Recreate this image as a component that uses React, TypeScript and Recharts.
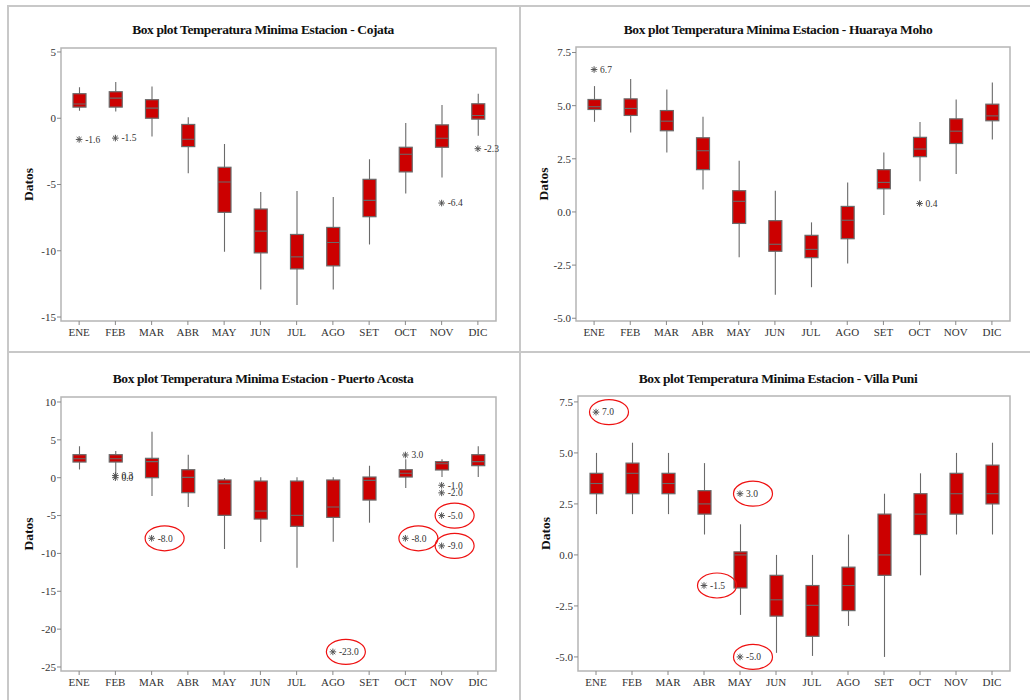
import { Bar, ComposedChart, ReferenceArea, Scatter, XAxis, YAxis } from "recharts";

const MESES = ["ENE", "FEB", "MAR", "ABR", "MAY", "JUN", "JUL", "AGO", "SET", "OCT", "NOV", "DIC"];

// cada fila: [bigote inferior, Q1, mediana, Q3, bigote superior]
const COJATA = [
  [0.56, 0.84, 1.07, 1.85, 2.33],
  [0.51, 0.84, 1.52, 2.0, 2.73],
  [-1.38, 0.0, 0.76, 1.4, 2.4],
  [-4.16, -2.14, -1.58, -0.47, 0.08],
  [-10.08, -7.1, -4.81, -3.7, -1.94],
  [-12.93, -10.16, -8.52, -6.85, -5.57],
  [-14.09, -11.37, -10.46, -8.77, -5.49],
  [-12.93, -11.14, -9.38, -8.24, -5.95],
  [-9.53, -7.43, -6.2, -4.61, -3.1],
  [-5.67, -4.05, -2.72, -2.19, -0.35],
  [-4.48, -2.19, -1.51, -0.5, 0.99],
  [-1.33, -0.07, 0.21, 1.09, 1.85],
];

const HUARAYA = [
  [4.24, 4.82, 4.95, 5.29, 5.92],
  [3.74, 4.54, 4.87, 5.32, 6.25],
  [2.8, 3.82, 4.27, 4.77, 5.76],
  [1.06, 1.99, 2.88, 3.49, 4.48],
  [-2.13, -0.54, 0.5, 1.0, 2.41],
  [-3.89, -1.85, -1.52, -0.41, 1.0],
  [-3.54, -2.15, -1.76, -1.1, -0.49],
  [-2.42, -1.26, -0.39, 0.26, 1.39],
  [-0.14, 1.09, 1.39, 1.99, 2.8],
  [1.45, 2.6, 2.96, 3.51, 4.23],
  [1.78, 3.22, 3.8, 4.38, 5.29],
  [3.41, 4.29, 4.52, 5.07, 6.09],
];

const PUERTO = [
  [1.1, 2.07, 2.5, 3.04, 4.14],
  [0.53, 2.07, 2.5, 3.04, 3.53],
  [-2.42, 0.0, 2.12, 2.56, 6.08],
  [-3.87, -1.98, 0.05, 1.06, 3.04],
  [-9.42, -4.97, -0.79, -0.3, -0.04],
  [-8.49, -5.46, -4.4, -0.44, 0.05],
  [-11.88, -6.42, -4.97, -0.44, 0.05],
  [-8.45, -5.24, -3.87, -0.3, 0.05],
  [-5.94, -2.95, -0.35, 0.09, 1.59],
  [-1.36, 0.09, 0.58, 1.06, 2.43],
  [0.09, 1.02, 1.85, 2.12, 2.43],
  [0.09, 1.59, 2.12, 3.04, 4.14],
];

const VILLA = [
  [2.0, 3.0, 3.5, 4.0, 5.0],
  [2.0, 3.0, 4.0, 4.5, 5.5],
  [2.0, 3.0, 3.5, 4.0, 5.0],
  [1.0, 2.0, 2.5, 3.15, 4.5],
  [-2.94, -1.62, 0.0, 0.15, 1.5],
  [-4.8, -3.0, -2.2, -1.0, 0.0],
  [-4.95, -3.99, -2.47, -1.5, 0.0],
  [-3.48, -2.73, -1.5, -0.6, 1.0],
  [-5.0, -1.0, 0.0, 2.0, 3.0],
  [-1.0, 1.0, 2.0, 3.0, 4.0],
  [1.0, 2.0, 3.0, 4.0, 5.0],
  [1.0, 2.5, 3.0, 4.4, 5.5],
];

// valores atípicos; "marcado" = encerrado con un óvalo rojo
const COJATA_ATIPICOS = [
  { mes: "ENE", valor: -1.6 },
  { mes: "FEB", valor: -1.5 },
  { mes: "NOV", valor: -6.4 },
  { mes: "DIC", valor: -2.3 },
];

const HUARAYA_ATIPICOS = [
  { mes: "ENE", valor: 6.7 },
  { mes: "OCT", valor: 0.4 },
];

const PUERTO_ATIPICOS = [
  { mes: "FEB", valor: 0.3 },
  { mes: "FEB", valor: 0.0 },
  { mes: "MAR", valor: -8.0, marcado: true },
  { mes: "AGO", valor: -23.0, marcado: true },
  { mes: "OCT", valor: 3.0 },
  { mes: "OCT", valor: -8.0, marcado: true },
  { mes: "NOV", valor: -1.0 },
  { mes: "NOV", valor: -2.0 },
  { mes: "NOV", valor: -5.0, marcado: true },
  { mes: "NOV", valor: -9.0, marcado: true },
];

const VILLA_ATIPICOS = [
  { mes: "ENE", valor: 7.0, marcado: true },
  { mes: "ABR", valor: -1.5, marcado: true },
  { mes: "MAY", valor: 3.0, marcado: true },
  { mes: "MAY", valor: -5.0, marcado: true },
];

const TICKS_COJATA = [-15, -10, -5, 0, 5];
const TICKS_HUARAYA = [-5, -2.5, 0, 2.5, 5, 7.5];
const TICKS_PUERTO = [-25, -20, -15, -10, -5, 0, 5, 10];
const TICKS_VILLA = [-5, -2.5, 0, 2.5, 5, 7.5];

const FUENTE = '"Liberation Serif", "Times New Roman", serif';
const ROJO = "#cc0000";
const GRIS = "#6a6a6a";

const PANELES = [
  {
    titulo: "Box plot Temperatura Minima Estacion - Cojata",
    cajas: COJATA,
    atipicos: COJATA_ATIPICOS,
    ticks: TICKS_COJATA,
    dominio: [-15.3, 5.3],
    decimales: 0,
    left: 0,
    top: 0,
    margin: { top: 48, right: 19, bottom: 9, left: 21 },
  },
  {
    titulo: "Box plot Temperatura Minima Estacion - Huaraya Moho",
    cajas: HUARAYA,
    atipicos: HUARAYA_ATIPICOS,
    ticks: TICKS_HUARAYA,
    dominio: [-5.13, 7.76],
    decimales: 1,
    left: 515,
    top: 0,
    margin: { top: 47, right: 20, bottom: 9, left: 21 },
  },
  {
    titulo: "Box plot Temperatura Minima Estacion - Puerto Acosta",
    cajas: PUERTO,
    atipicos: PUERTO_ATIPICOS,
    ticks: TICKS_PUERTO,
    dominio: [-25.53, 10.66],
    decimales: 0,
    left: 0,
    top: 350,
    margin: { top: 47, right: 19, bottom: 9, left: 21 },
  },
  {
    titulo: "Box plot Temperatura Minima Estacion - Villa Puni",
    cajas: VILLA,
    atipicos: VILLA_ATIPICOS,
    ticks: TICKS_VILLA,
    dominio: [-5.69, 7.79],
    decimales: 1,
    left: 515,
    top: 350,
    margin: { top: 46, right: 20, bottom: 9, left: 23 },
  },
];

function Caja(props: any) {
  const { x, y, width, height, payload } = props;
  if (!payload) return null;
  const { lo, q1, med, q3, hi } = payload;
  const top = Math.min(y, y + height);
  const h = Math.abs(height);
  const k = h / (hi - lo);
  const cx = x + width / 2;
  const yQ3 = top + (hi - q3) * k;
  const yQ1 = top + (hi - q1) * k;
  const yMed = top + (hi - med) * k;
  return (
    <g>
      <line x1={cx} x2={cx} y1={top} y2={top + h} stroke={GRIS} strokeWidth={1.1} />
      <rect x={x} y={yQ3} width={width} height={yQ1 - yQ3} fill={ROJO} stroke={GRIS} strokeWidth={1.2} />
      <line x1={x} x2={x + width} y1={yMed} y2={yMed} stroke={GRIS} strokeWidth={1.1} />
    </g>
  );
}

function Atipico(props: any) {
  const { cx, cy, payload } = props;
  if (cx == null || cy == null || !payload) return null;
  const r = 3.3;
  const d = r * 0.72;
  return (
    <g>
      <line x1={cx - r} x2={cx + r} y1={cy} y2={cy} stroke="#555" strokeWidth={1} />
      <line x1={cx} x2={cx} y1={cy - r} y2={cy + r} stroke="#555" strokeWidth={1} />
      <line x1={cx - d} x2={cx + d} y1={cy - d} y2={cy + d} stroke="#555" strokeWidth={1} />
      <line x1={cx - d} x2={cx + d} y1={cy + d} y2={cy - d} stroke="#555" strokeWidth={1} />
      <text x={cx + 6} y={cy + 3.3} fontFamily={FUENTE} fontSize={9.5} fill="#333">
        {payload.valor.toFixed(1)}
      </text>
      {payload.marcado && (
        <ellipse cx={cx + 13} cy={cy} rx={19.5} ry={12.5} fill="none" stroke="#ee1111" strokeWidth={1.2} />
      )}
    </g>
  );
}

function Panel({ p }: { p: (typeof PANELES)[number] }) {
  const data = MESES.map((mes, i) => {
    const [lo, q1, med, q3, hi] = p.cajas[i];
    return { mes, lo, q1, med, q3, hi };
  });
  const tickStyle = { fontSize: 11, fill: "#333", fontFamily: FUENTE };

  return (
    <div style={{ position: "absolute", left: p.left, top: p.top, width: 515, height: 350 }}>
      <div
        style={{
          position: "absolute",
          left: 5,
          width: 516,
          top: p.top === 0 ? 22 : 21,
          textAlign: "center",
          fontFamily: FUENTE,
          fontWeight: "bold",
          fontSize: 13.5,
          letterSpacing: -0.4,
          color: "#111",
          whiteSpace: "nowrap",
        }}
      >
        {p.titulo}
      </div>
      <ComposedChart width={515} height={350} data={data} margin={p.margin}>
        <XAxis
          dataKey="mes"
          allowDuplicatedCategory={false}
          interval={0}
          height={20}
          axisLine={false}
          tickSize={4}
          tickMargin={3}
          tickLine={{ stroke: "#888" }}
          tick={tickStyle}
        />
        <YAxis
          type="number"
          domain={p.dominio}
          ticks={p.ticks}
          allowDataOverflow
          width={40}
          axisLine={false}
          tickSize={4}
          tickMargin={1}
          tickLine={{ stroke: "#888" }}
          tick={tickStyle}
          tickFormatter={(v: number) => v.toFixed(p.decimales)}
          label={{
            value: "Datos",
            angle: -90,
            position: "center",
            dx: -13,
            style: { fontFamily: FUENTE, fontWeight: "bold", fontSize: 13.5, fill: "#111" },
          }}
        />
        <ReferenceArea
          y1={p.dominio[0]}
          y2={p.dominio[1]}
          fill="none"
          stroke="#b5b5b5"
          strokeWidth={1.5}
          ifOverflow="visible"
        />
        <Bar
          dataKey={(d: any) => [d.lo, d.hi]}
          barSize={13}
          shape={(props: any) => <Caja {...props} />}
          isAnimationActive={false}
        />
        <Scatter
          data={p.atipicos}
          dataKey="valor"
          shape={(props: any) => <Atipico {...props} />}
          isAnimationActive={false}
        />
      </ComposedChart>
    </div>
  );
}

const LINEA = "#c8c8c8";

export default function App() {
  return (
    <div style={{ position: "relative", width: 1030, height: 700, background: "#fff", overflow: "hidden" }}>
      <style>{"body{margin:0}"}</style>
      {PANELES.map((p) => (
        <Panel key={p.titulo} p={p} />
      ))}
      <div style={{ position: "absolute", left: 7, top: 5, width: 1023, height: 2, background: LINEA }} />
      <div style={{ position: "absolute", left: 7, top: 5, width: 2, height: 695, background: LINEA }} />
      <div style={{ position: "absolute", left: 519, top: 5, width: 2, height: 695, background: LINEA }} />
      <div style={{ position: "absolute", left: 7, top: 351, width: 1023, height: 2, background: LINEA }} />
    </div>
  );
}
